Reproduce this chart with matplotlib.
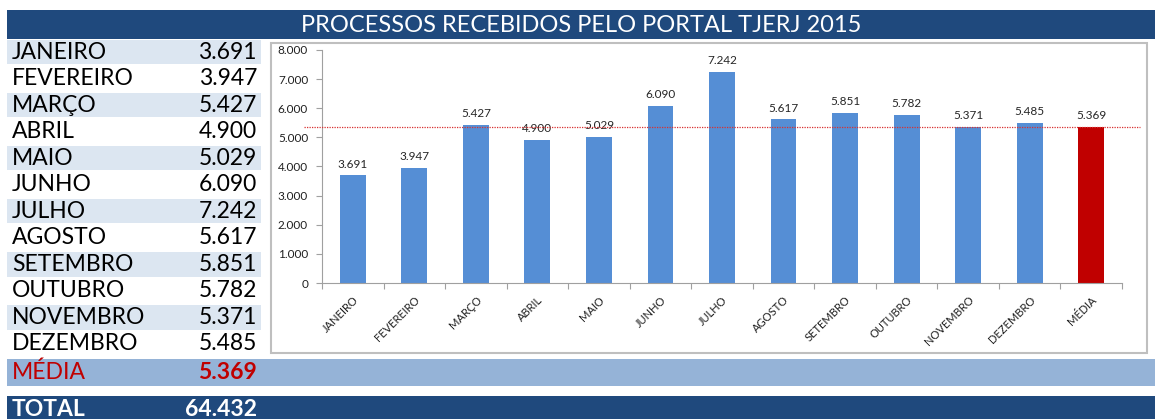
import matplotlib.pyplot as plt
from matplotlib.patches import Rectangle

meses = ["JANEIRO", "FEVEREIRO", "MARÇO", "ABRIL", "MAIO", "JUNHO", "JULHO",
         "AGOSTO", "SETEMBRO", "OUTUBRO", "NOVEMBRO", "DEZEMBRO"]
valores = [3691, 3947, 5427, 4900, 5029, 6090, 7242, 5617, 5851, 5782, 5371, 5485]
media = 5369
total = 64432
titulo = "PROCESSOS RECEBIDOS PELO PORTAL TJERJ 2015"

AZUL_ESCURO = "#1F497D"
AZUL_CLARO = "#DCE6F1"
AZUL_MEDIA = "#95B3D7"
AZUL_BARRA = "#558ED5"
VERMELHO = "#C00000"

W, H = 1164, 419
plt.rcParams['font.family'] = ['Lato', 'DejaVu Sans']
FS = 16.5


def fmt(v):
    return f"{v:,}".replace(",", ".")


def px(x, y):
    # pixel (topo-esquerda) -> coordenadas da figura
    return x / W, 1 - y / H


fig = plt.figure(figsize=(W / 100, H / 100), dpi=100)


def faixa(x0, y0, x1, y1, cor, **kw):
    fx, fy = px(x0, y1)
    fig.patches.append(Rectangle((fx, fy), (x1 - x0) / W, (y1 - y0) / H,
                                 transform=fig.transFigure, facecolor=cor,
                                 edgecolor=kw.get("ec", "none"),
                                 linewidth=kw.get("lw", 0), zorder=0))


# barra do título
faixa(7, 10, 1155, 39, AZUL_ESCURO)
fig.text(*px(581, 25), titulo, color="white", fontsize=17, ha="center", va="center")

# tabela
linha_h = 26.5
for i, (m, v) in enumerate(zip(meses, valores)):
    y0 = 39 + i * linha_h
    if i % 2 == 0:
        faixa(7, y0 + 1, 261, y0 + linha_h - 1, AZUL_CLARO)
    yc = y0 + linha_h / 2
    fig.text(*px(12, yc), m, fontsize=FS, ha="left", va="center", color="black")
    fig.text(*px(257, yc), fmt(v), fontsize=FS, ha="right", va="center", color="black")

faixa(7, 359, 1155, 386, AZUL_MEDIA)
fig.text(*px(12, 372.5), "MÉDIA", fontsize=FS, ha="left", va="center", color=VERMELHO)
fig.text(*px(257, 372.5), fmt(media), fontsize=FS, ha="right", va="center",
         color=VERMELHO, fontweight="bold")

faixa(7, 396, 1155, 420, AZUL_ESCURO)
fig.text(*px(12, 409), "TOTAL", fontsize=FS, ha="left", va="center", color="white",
         fontweight="bold")
fig.text(*px(257, 409), fmt(total), fontsize=FS, ha="right", va="center", color="white",
         fontweight="bold")

# moldura do gráfico
faixa(271, 43, 1147, 353, "white", ec="#BFBFBF", lw=1.5)

# gráfico
l, t = px(322, 50)
r, b = px(1122, 283)
ax = fig.add_axes([l, b, r - l, t - b])
ax.set_zorder(2)
cats = meses + ["MÉDIA"]
vals = valores + [media]
cores = [AZUL_BARRA] * len(valores) + [VERMELHO]
x = range(len(cats))
ax.bar(x, vals, width=0.42, color=cores, zorder=2)
for xi, v in zip(x, vals):
    ax.text(xi, v + 200, fmt(v), ha="center", va="bottom", fontsize=8.5, color="#262626")

# linha da média
ax.plot([-0.8, 12.8], [media, media], color="#D83030", linestyle=(0, (1, 1)),
        linewidth=0.9, clip_on=False, zorder=3)

ax.set_xlim(-0.5, len(cats) - 0.5)
ax.set_ylim(0, 8000)
ax.set_yticks(range(0, 8001, 1000))
ax.set_yticklabels([fmt(v) for v in range(0, 8001, 1000)], fontsize=8.5, color="#202020")
ax.set_xticks([i - 0.5 for i in range(len(cats) + 1)])
ax.set_xticklabels([])
ax.set_xticks(list(x), minor=True)
ax.set_xticklabels(cats, minor=True, rotation=45, ha="right", rotation_mode="anchor",
                   fontsize=8, color="#202020")
ax.tick_params(axis="x", which="minor", length=0, pad=8)
ax.tick_params(axis="x", which="major", length=4, color="#A0A0A0")
ax.tick_params(axis="y", length=4, color="#A0A0A0", pad=6)
for s in ["top", "right"]:
    ax.spines[s].set_visible(False)
for s in ["left", "bottom"]:
    ax.spines[s].set_color("#A0A0A0")
ax.set_facecolor("none")

fig.savefig("out.png", dpi=100)
